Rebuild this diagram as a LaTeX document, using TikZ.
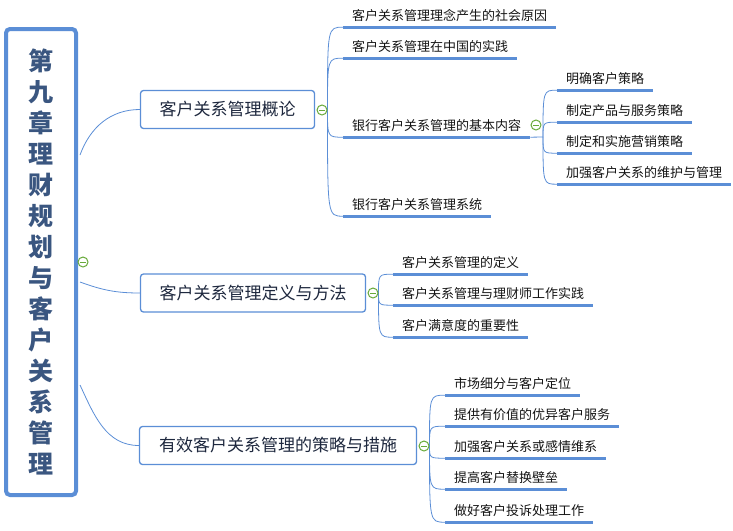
\documentclass[tikz,border=0pt]{standalone}
\usepackage{fontspec}
\setmainfont{Noto Sans CJK SC}
\usetikzlibrary{calc,backgrounds}
\definecolor{xblue}{RGB}{91,142,214}
\definecolor{xgreen}{RGB}{104,170,58}
\definecolor{roottxt}{RGB}{58,86,128}
\definecolor{brtxt}{RGB}{30,40,62}
\definecolor{chtxt}{RGB}{20,20,20}
\begin{document}
\begin{tikzpicture}[x=1pt,y=-1pt,
 rootbox/.style={draw=xblue, line width=4pt, rounded corners=4pt, fill=white,
   minimum width=70pt, minimum height=466pt, inner sep=0pt, align=center,
   text=roottxt, font=\fontsize{25}{31}\selectfont\bfseries},
 topic/.style={draw=xblue, line width=1.3pt, rounded corners=3pt, fill=white,
   minimum height=38pt, inner sep=0pt, text=brtxt, font=\fontsize{17}{20}\selectfont},
 sub/.style={anchor=base west, inner xsep=9pt, inner ysep=0pt, text depth=7pt,
   text=chtxt, font=\fontsize{13}{15}\selectfont},
 uline/.style={draw=xblue, line width=3pt},
 conn/.style={draw=xblue, line width=0.8pt},
 fold/.style={circle, draw=xgreen, line width=1pt, fill=white, minimum size=10pt, inner sep=0pt,
   path picture={\draw[xgreen, line width=1pt] ([xshift=-3pt]path picture bounding box.center) -- ([xshift=3pt]path picture bounding box.center);}}
]
\useasboundingbox (0,0) rectangle (733,530);

% root
\node[rootbox] (root) at (41,262) {第\\九\\章\\理\\财\\规\\划\\与\\客\\户\\关\\系\\管\\理};
\node[fold] (g0) at (83,262) {};

% main topics
\node[topic, minimum width=174pt] (t1) at (227.5,109.5) {客户关系管理概论};
\node[fold] (g1) at (322,110) {};
\node[topic, minimum width=225pt] (t2) at (253,293) {客户关系管理定义与方法};
\node[fold] (g2) at (373,293) {};
\node[topic, minimum width=277pt] (t3) at (278,445.5) {有效客户关系管理的策略与措施};
\node[fold] (g3) at (424,446) {};

% branch 1 children
\node[sub] (c11) at (343,20) {客户关系管理理念产生的社会原因};
\node[sub] (c12) at (343,51) {客户关系管理在中国的实践};
\node[sub] (c13) at (343,130) {银行客户关系管理的基本内容};
\node[sub] (c14) at (343,209) {银行客户关系管理系统};
\node[fold] (g13) at (536,125) {};
\coordinate (j13) at (543,137);

% sub-children of c13
\node[sub] (d1) at (557,83) {明确客户策略};
\node[sub] (d2) at (557,115) {制定产品与服务策略};
\node[sub] (d3) at (557,146) {制定和实施营销策略};
\node[sub] (d4) at (557,177) {加强客户关系的维护与管理};

% branch 2 children
\node[sub] (c21) at (393,267) {客户关系管理的定义};
\node[sub] (c22) at (393,298) {客户关系管理与理财师工作实践};
\node[sub] (c23) at (393,330) {客户满意度的重要性};

% branch 3 children
\node[sub] (c31) at (445,388) {市场细分与客户定位};
\node[sub] (c32) at (445,419) {提供有价值的优异客户服务};
\node[sub] (c33) at (445,451) {加强客户关系或感情维系};
\node[sub] (c34) at (445,482) {提高客户替换壁垒};
\node[sub] (c35) at (445,515) {做好客户投诉处理工作};

% underlines
\foreach \n in {c11,c12,c13,c14,d1,d2,d3,d4,c21,c22,c23,c31,c32,c33,c34,c35}
  \draw[uline] (\n.south west) -- (\n.south east);

\begin{pgfonlayer}{background}
% root connectors
\draw[conn] ([xshift=2pt,yshift=107pt]root.east) to[out=70,in=180] (t1.west);
\draw[conn] ([xshift=2pt,yshift=-20pt]root.east) to[out=-20,in=180] (t2.west);
\draw[conn] ([xshift=2pt,yshift=-123pt]root.east) to[out=-65,in=180] (t3.west);
% branch connectors
\foreach \n in {c11,c12,c13,c14}
  \draw[conn] (g1.east) .. controls (g1.east |- \n.south west) .. (\n.south west);
\draw[conn] (c13.south east) -- (j13);
\foreach \n in {d1,d2,d3,d4}
  \draw[conn] (j13) .. controls (j13 |- \n.south west) .. (\n.south west);
\foreach \n in {c21,c22,c23}
  \draw[conn] (g2.east) .. controls (g2.east |- \n.south west) .. (\n.south west);
\foreach \n in {c31,c32,c33,c34,c35}
  \draw[conn] (g3.east) .. controls (g3.east |- \n.south west) .. (\n.south west);
\end{pgfonlayer}
\end{tikzpicture}
\end{document}
